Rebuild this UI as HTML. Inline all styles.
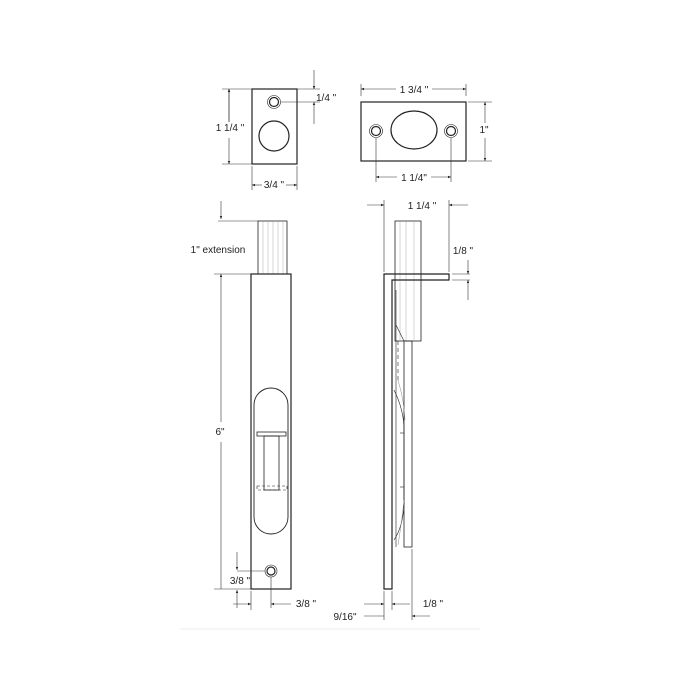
<!DOCTYPE html>
<html><head><style>body{margin:0;background:#fff}svg{display:block}text{font-family:"Liberation Sans",sans-serif;font-size:10px;fill:#222}</style></head><body>
<svg width="700" height="700" viewBox="0 0 700 700" xmlns="http://www.w3.org/2000/svg">
<defs><marker id="a" viewBox="0 0 10 10" refX="10" refY="5" markerWidth="5" markerHeight="5" orient="auto-start-reverse"><path d="M0,1 L10,5 L0,9z" fill="#222"/></marker></defs>
<g fill="none" stroke="#222" stroke-width="1.2">
<!-- small plate -->
<rect x="252" y="89" width="45" height="75"/>
<circle cx="274" cy="102" r="4.5"/><circle cx="274" cy="102" r="6.5" stroke-width="0.6"/>
<circle cx="274" cy="136" r="15"/>
<!-- large plate -->
<rect x="361" y="102" width="105" height="59"/>
<ellipse cx="414" cy="130" rx="23" ry="19"/>
<circle cx="376" cy="131" r="4.5"/><circle cx="376" cy="131" r="6.5" stroke-width="0.6"/>
<circle cx="451" cy="131" r="4.5"/><circle cx="451" cy="131" r="6.5" stroke-width="0.6"/>
<!-- front view -->
<rect x="258" y="221" width="29" height="53" stroke-width="0.8"/>
<g stroke-width="0.4" stroke="#999"><line x1="263" y1="221" x2="263" y2="274"/><line x1="268" y1="221" x2="268" y2="274"/><line x1="273" y1="221" x2="273" y2="274"/><line x1="278" y1="221" x2="278" y2="274"/><line x1="283" y1="221" x2="283" y2="274"/></g>
<rect x="251" y="274" width="40" height="315"/>
<path d="M254,405 A17,17 0 0 1 288,405 L288,517 A17,17 0 0 1 254,517 Z" stroke-width="0.9"/>
<rect x="257" y="432" width="29" height="4" stroke-width="0.8"/>
<rect x="264" y="436" width="15" height="54" stroke-width="0.8"/>
<rect x="257" y="486" width="30" height="4" stroke-width="0.6" stroke-dasharray="3,2"/>
<circle cx="271" cy="571" r="4"/><circle cx="271" cy="571" r="6" stroke-width="0.6"/>
<!-- side view -->
<rect x="395" y="221" width="26" height="120" stroke-width="0.8"/>
<g stroke-width="0.4" stroke="#999"><line x1="400" y1="221" x2="400" y2="341"/><line x1="406" y1="221" x2="406" y2="341"/><line x1="414" y1="221" x2="414" y2="341"/></g>
<path d="M384,589 L384,274 L449,274 L449,280 L392,280 L392,589 Z"/>
<rect x="404" y="341" width="8" height="206" stroke-width="0.8"/>
<path d="M396,290 L396,547" stroke-width="0.6"/>
<path d="M396,325 L404,341" stroke-width="0.6"/>
<line x1="398" y1="341" x2="398" y2="380" stroke-width="0.6" stroke-dasharray="4,3"/>
<path d="M394,390 Q404,410 404,430 L404,500 Q404,525 394,540" stroke-width="0.6"/>
<path d="M398,380 Q404,400 405,420" stroke-width="0.5" stroke="#888"/>
<path d="M398,545 Q402,520 404,500" stroke-width="0.5" stroke="#888"/>
<line x1="400" y1="433" x2="404" y2="433" stroke-width="0.6"/><line x1="400" y1="487" x2="404" y2="487" stroke-width="0.6"/>
</g>
<g stroke="#333" stroke-width="0.6" fill="none">
<!-- small plate dims -->
<line x1="229" y1="89" x2="229" y2="122" marker-end="url(#a)" transform="rotate(180 229 105.5)"/>
<line x1="229" y1="89" x2="229" y2="124" marker-start="url(#a)"/><line x1="229" y1="138" x2="229" y2="164" marker-end="url(#a)"/>
<line x1="222" y1="89" x2="252" y2="89"/><line x1="222" y1="164" x2="252" y2="164"/>
<line x1="314" y1="70" x2="314" y2="89" marker-end="url(#a)"/><line x1="314" y1="124" x2="314" y2="102" marker-end="url(#a)"/>
<line x1="297" y1="89" x2="320" y2="89"/><line x1="281" y1="102" x2="320" y2="102"/>
<line x1="252" y1="166" x2="252" y2="190"/><line x1="297" y1="166" x2="297" y2="190"/>
<line x1="252" y1="185" x2="262" y2="185" marker-start="url(#a)"/><line x1="286" y1="185" x2="297" y2="185" marker-end="url(#a)"/>
<!-- large plate dims -->
<line x1="361" y1="84" x2="361" y2="96"/><line x1="466" y1="84" x2="466" y2="96"/>
<line x1="361" y1="89" x2="396" y2="89" marker-start="url(#a)"/><line x1="432" y1="89" x2="466" y2="89" marker-end="url(#a)"/>
<line x1="468" y1="102" x2="492" y2="102"/><line x1="468" y1="161" x2="492" y2="161"/>
<line x1="485" y1="102" x2="485" y2="123" marker-start="url(#a)"/><line x1="485" y1="138" x2="485" y2="161" marker-end="url(#a)"/>
<line x1="376" y1="138" x2="376" y2="182"/><line x1="451" y1="138" x2="451" y2="182"/>
<line x1="376" y1="177" x2="397" y2="177" marker-start="url(#a)"/><line x1="431" y1="177" x2="451" y2="177" marker-end="url(#a)"/>
<!-- front dims -->
<line x1="221" y1="201" x2="221" y2="219" marker-end="url(#a)"/>
<line x1="218" y1="221" x2="258" y2="221"/>
<line x1="214" y1="274" x2="251" y2="274"/>
<line x1="221" y1="274" x2="221" y2="422" marker-start="url(#a)"/><line x1="221" y1="442" x2="221" y2="589"/>
<line x1="214" y1="589" x2="251" y2="589"/>
<line x1="237" y1="552" x2="237" y2="570" marker-end="url(#a)"/><line x1="237" y1="571" x2="265" y2="571"/>
<line x1="237" y1="608" x2="237" y2="590" marker-end="url(#a)"/>
<line x1="251" y1="591" x2="251" y2="610"/>
<line x1="233" y1="604" x2="251" y2="604" marker-end="url(#a)"/>
<line x1="271" y1="577" x2="271" y2="608"/>
<line x1="291" y1="604" x2="271" y2="604" marker-end="url(#a)"/>
<!-- side dims -->
<line x1="384" y1="200" x2="384" y2="272"/><line x1="449" y1="200" x2="449" y2="272"/>
<line x1="367" y1="205" x2="384" y2="205" marker-end="url(#a)"/><line x1="468" y1="205" x2="449" y2="205" marker-end="url(#a)"/>
<line x1="452" y1="274" x2="470" y2="274"/><line x1="452" y1="280" x2="470" y2="280"/>
<line x1="468" y1="260" x2="468" y2="274" marker-end="url(#a)"/><line x1="468" y1="300" x2="468" y2="280" marker-end="url(#a)"/>
<line x1="384" y1="591" x2="384" y2="620"/><line x1="392" y1="591" x2="392" y2="610"/><line x1="412" y1="549" x2="412" y2="620"/>
<line x1="364" y1="604" x2="384" y2="604" marker-end="url(#a)"/><line x1="410" y1="604" x2="392" y2="604" marker-end="url(#a)"/>
<line x1="364" y1="616" x2="384" y2="616"/><line x1="430" y1="616" x2="412" y2="616" marker-end="url(#a)"/>
</g>
<line x1="180" y1="629" x2="480" y2="629" stroke="#eee" stroke-width="1"/>
<g text-anchor="middle">
<text x="230" y="131" fill="#222" style="paint-order:stroke" stroke="#fff" stroke-width="4">1 1/4 "</text>
<text x="316" y="101" text-anchor="start" x="304">1/4 "</text>
<text x="274" y="188">3/4 "</text>
<text x="414" y="93">1 3/4 "</text>
<text x="484" y="133">1"</text>
<text x="414" y="181">1 1/4"</text>
<text x="218" y="253">1" extension</text>
<text x="220" y="435" stroke="#fff" stroke-width="4" style="paint-order:stroke">6"</text>
<text x="240" y="584">3/8 "</text>
<text x="306" y="607">3/8 "</text>
<text x="422" y="209">1 1/4 "</text>
<text x="463" y="254">1/8 "</text>
<text x="345" y="620">9/16"</text>
<text x="433" y="607">1/8 "</text>
</g>
</svg>
</body></html>
